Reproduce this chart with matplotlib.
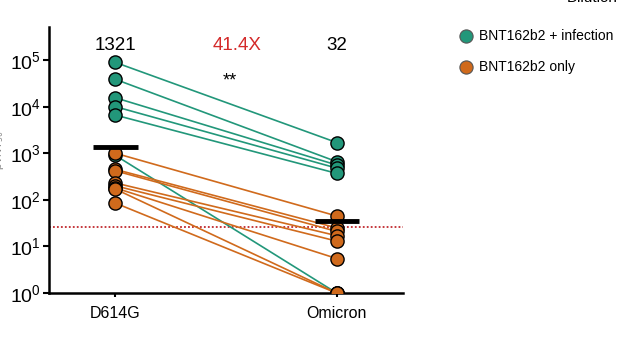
import numpy as np
import matplotlib
matplotlib.use("Agg")
import matplotlib.pyplot as plt

plt.rcParams['font.family'] = ['Liberation Sans', 'DejaVu Sans']

variants = ["D614G", "Omicron"]
groups = ["BNT162b2 + infection", "BNT162b2 only"]
colors = ["#22977a", "#d06a1c"]

infected_d614g = [89000, 38600, 15500, 10000, 6600, 900]
infected_omicron = [1700, 660, 560, 480, 370, 1]
vacc_d614g = [1000, 450, 420, 230, 200, 180, 170, 85]
vacc_omicron = [45, 25, 21, 17, 13, 5.5, 1, 1]

gmt_labels = ["1321", "32"]
fold_label = "41.4X"
signif_label = "**"
lod = 26

fig = plt.figure(figsize=(6.18, 3.47), dpi=100)
ax = fig.add_axes([49/618, 1-293/347, (403-49)/618, (293-27)/347])

x = np.arange(len(variants))
pairs = [(infected_d614g, infected_omicron, colors[0]),
         (vacc_d614g, vacc_omicron, colors[1])]
for d, o, c in pairs:
    for a, b in zip(d, o):
        ax.plot(x, [a, b], color=c, lw=1.2, zorder=2)
for d, o, c in pairs:
    for a, b in zip(d, o):
        ax.plot(x, [a, b], linestyle='none', marker='o', ms=9.5,
                mfc=c, mec='black', mew=1.0, zorder=3)

all_d = np.array(infected_d614g + vacc_d614g, dtype=float)
all_o = np.array(infected_omicron + vacc_omicron, dtype=float)
gm = [np.exp(np.mean(np.log(all_d))), np.exp(np.mean(np.log(all_o)))]
for xi, g in zip(x, gm):
    ax.plot([xi-0.1, xi+0.1], [g, g], color='black', lw=3.5, solid_capstyle='butt', zorder=4)

ax.axhline(lod, color='#c0282d', lw=1.3, ls=(0, (1, 1.2)), zorder=1)

ax.set_yscale('log')
ax.set_ylim(1, 10**5.71)
ax.set_xlim(-0.3, 1.3)
ax.set_yticks([1, 10, 100, 1e3, 1e4, 1e5])
ax.set_yticklabels([r'$\mathregular{10^{%d}}$' % i for i in range(6)])
ax.yaxis.set_minor_locator(matplotlib.ticker.NullLocator())
ax.set_xticks(x)
ax.set_xticklabels(variants)
ax.tick_params(axis='y', labelsize=14, length=4, width=1.5, pad=2)
ax.tick_params(axis='x', labelsize=11.5, length=3, width=1.5, pad=6)
for s in ['top', 'right']:
    ax.spines[s].set_visible(False)
for s in ['left', 'bottom']:
    ax.spines[s].set_linewidth(1.8)

def px(xp, yp):
    return xp/618, 1-yp/347

fig.text(*px(115, 45), gmt_labels[0], ha='center', va='center', fontsize=13.5)
fig.text(*px(337, 45), gmt_labels[1], ha='center', va='center', fontsize=13.5)
fig.text(*px(237, 45), fold_label, ha='center', va='center', fontsize=13.5, color='#d42a2a')
fig.text(*px(230, 81), signif_label, ha='center', va='center', fontsize=13)

for i, (g, c) in enumerate(zip(groups, colors)):
    xm, ym = px(466, 36 + 31*i)
    fig.add_artist(matplotlib.lines.Line2D([xm], [ym], marker='o', ms=9.5, mfc=c,
                                           mec='#555555', mew=0.8, linestyle='none'))
    fig.text(*px(479, 36 + 31*i), g, ha='left', va='center', fontsize=10)

fig.text(*px(567, 1.5), "Dilution", ha='left', va='baseline', fontsize=11)
fig.text(*px(-1, 150), r'pVNT$_{50}$', rotation=90, ha='center', va='center', fontsize=8, color='#888888')

fig.savefig("out.png", dpi=100)
